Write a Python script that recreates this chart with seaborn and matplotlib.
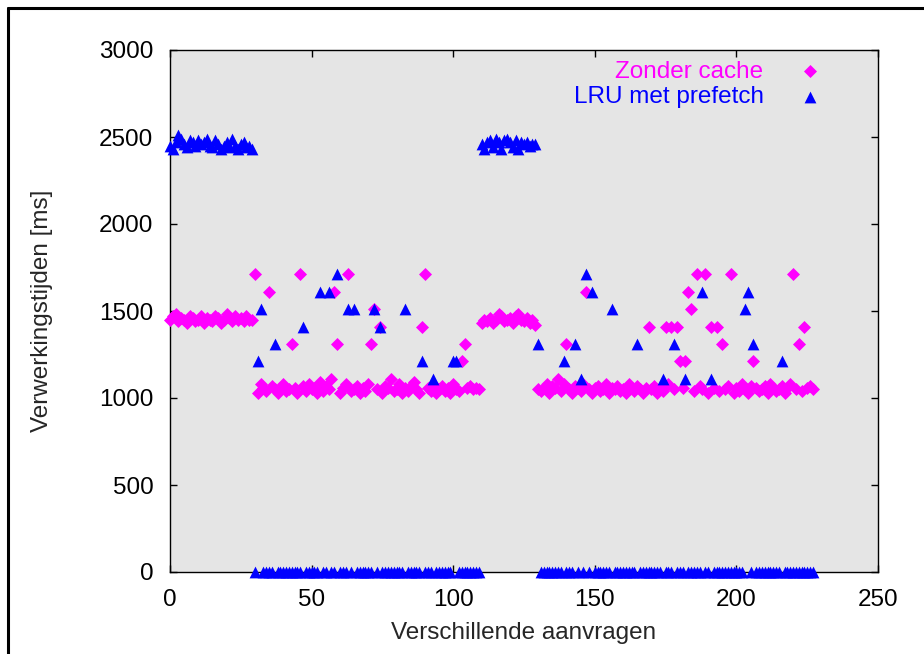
import numpy as np
import pandas as pd
import seaborn as sns
import matplotlib.pyplot as plt
from matplotlib.lines import Line2D

# Verwerkingstijden per aanvraag [ms], index = aanvraag
zonder_cache = [
    1450, 1470, 1480, 1440, 1460, 1450, 1430, 1470, 1460, 1440,
    1450, 1470, 1430, 1460, 1450, 1440, 1470, 1460, 1430, 1450,
    1480, 1460, 1440, 1470, 1450, 1460, 1440, 1470, 1450, 1450,
    1710, 1030, 1080, 1060, 1040, 1610, 1070, 1050, 1030, 1060,
    1080, 1040, 1050, 1310, 1060, 1030, 1710, 1070, 1040, 1080,
    1050, 1060, 1030, 1090, 1040, 1070, 1050, 1110, 1610, 1310,
    1030, 1060, 1080, 1710, 1040, 1050, 1070, 1030, 1060, 1040,
    1080, 1310, 1510, 1050, 1410, 1030, 1070, 1060, 1110, 1040,
    1050, 1080, 1030, 1060, 1040, 1070, 1090, 1050, 1030, 1410,
    1710, 1060, 1040, 1080, 1030, 1050, 1070, 1040, 1060, 1030,
    1080, 1050, 1040, 1210, 1310, 1060, 1070, 1050, 1060, 1050,
    1430, 1450, 1440, 1460, 1430, 1450, 1480, 1470, 1440, 1450,
    1460, 1430, 1470, 1480, 1450, 1440, 1460, 1430, 1450, 1420,
    1050, 1040, 1060, 1080, 1030, 1070, 1060, 1110, 1040, 1080,
    1310, 1050, 1030, 1070, 1060, 1040, 1080, 1610, 1050, 1030,
    1060, 1070, 1040, 1050, 1080, 1030, 1060, 1050, 1070, 1040,
    1050, 1030, 1080, 1060, 1040, 1070, 1050, 1030, 1060, 1410,
    1050, 1070, 1030, 1060, 1040, 1410, 1080, 1410, 1050, 1410,
    1210, 1060, 1210, 1610, 1510, 1040, 1710, 1070, 1050, 1710,
    1030, 1410, 1060, 1410, 1040, 1310, 1050, 1070, 1710, 1030,
    1060, 1040, 1080, 1050, 1030, 1070, 1210, 1060, 1040, 1050,
    1070, 1030, 1080, 1060, 1040, 1050, 1070, 1030, 1060, 1080,
    1710, 1050, 1310, 1040, 1410, 1060, 1070, 1050,
]

lru_prefetch = [
    2450, 2430, 2470, 2510, 2490, 2460, 2440, 2480, 2470, 2450,
    2480, 2460, 2470, 2490, 2450, 2440, 2480, 2460, 2430, 2450,
    2470, 2440, 2490, 2450, 2430, 2460, 2470, 2440, 2450, 2430,
    0, 1210, 1510, 0, 0, 0, 0, 1310, 0, 0,
    0, 0, 0, 0, 0, 0, 0, 1410, 0, 0,
    0, 0, 0, 1610, 0, 0, 1610, 0, 0, 1710,
    0, 0, 0, 1510, 0, 1510, 0, 0, 0, 0,
    0, 0, 1510, 0, 1410, 0, 0, 0, 0, 0,
    0, 0, 0, 1510, 0, 0, 0, 0, 0, 1210,
    0, 0, 0, 1110, 0, 0, 0, 0, 0, 0,
    1210, 1210, 0, 0, 0, 0, 0, 0, 0, 0,
    2460, 2430, 2470, 2480, 2440, 2490, 2470, 2430, 2480, 2490,
    2470, 2440, 2480, 2430, 2470, 2460, 2470, 2450, 2460, 2460,
    1310, 0, 0, 0, 0, 0, 0, 0, 0, 1210,
    0, 0, 0, 1310, 0, 1110, 0, 1710, 0, 1610,
    0, 0, 0, 0, 0, 0, 1510, 0, 0, 0,
    0, 0, 0, 0, 0, 1310, 0, 0, 0, 0,
    0, 0, 0, 0, 1110, 0, 0, 0, 1310, 0,
    0, 0, 1110, 0, 0, 0, 0, 0, 1610, 0,
    0, 1110, 0, 0, 0, 0, 0, 0, 0, 0,
    0, 0, 0, 1510, 1610, 0, 1310, 0, 0, 0,
    0, 0, 0, 0, 0, 0, 1210, 0, 0, 0,
    0, 0, 0, 0, 0, 0, 0, 0,
]

series_names = ["Zonder cache", "LRU met prefetch"]
series_colors = ["#ff00ff", "#0000ff"]
x_ticks = [0, 50, 100, 150, 200, 250]
y_ticks = [0, 500, 1000, 1500, 2000, 2500, 3000]

df = pd.DataFrame({
    "aanvraag": np.concatenate([np.arange(len(zonder_cache)), np.arange(len(lru_prefetch))]),
    "tijd": zonder_cache + lru_prefetch,
    "reeks": [series_names[0]] * len(zonder_cache) + [series_names[1]] * len(lru_prefetch),
})

sns.set_style("ticks")
plt.rcParams["font.family"] = ["Liberation Sans", "DejaVu Sans"]

fig = plt.figure(figsize=(9.24, 6.54), dpi=100)
ax = fig.add_axes([170 / 924, 82 / 654, 708 / 924, 522 / 654])
ax.set_facecolor("#e5e5e5")

sns.scatterplot(data=df[df.reeks == series_names[0]], x="aanvraag", y="tijd",
                color=series_colors[0], marker="D", s=44, linewidth=0,
                label=series_names[0], ax=ax, zorder=3, clip_on=False)
sns.scatterplot(data=df[df.reeks == series_names[1]], x="aanvraag", y="tijd",
                color=series_colors[1], marker="^", s=72, linewidth=0,
                label=series_names[1], ax=ax, zorder=4, clip_on=False)

ax.set_xlim(0, 250)
ax.set_ylim(0, 3000)
ax.set_xticks(x_ticks)
ax.set_yticks(y_ticks)
ax.tick_params(direction="in", length=5, width=1, labelsize=17.5, top=True, right=True,
               color="black", labelcolor="black")
ax.tick_params(axis="x", pad=12)
ax.tick_params(axis="y", pad=12)
for sp in ax.spines.values():
    sp.set_visible(True)
    sp.set_color("black")
    sp.set_linewidth(1)

ax.set_xlabel("Verschillende aanvragen", fontsize=17.5, labelpad=8)
ax.set_ylabel("Verwerkingstijden [ms]", fontsize=17.5, labelpad=33)

leg = ax.legend(loc="upper right", frameon=False, markerfirst=False, fontsize=17.5,
                labelcolor=series_colors, handletextpad=0.9, borderaxespad=0.1,
                labelspacing=0.15, bbox_to_anchor=(0.955, 1.003))

# outer frame of the original output
fig.add_artist(Line2D([8 / 924, 8 / 924], [0, 646 / 654], color="black", lw=2.2))
fig.add_artist(Line2D([8 / 924, 1], [646 / 654, 646 / 654], color="black", lw=2.2))

fig.savefig("out.png", dpi=100)
